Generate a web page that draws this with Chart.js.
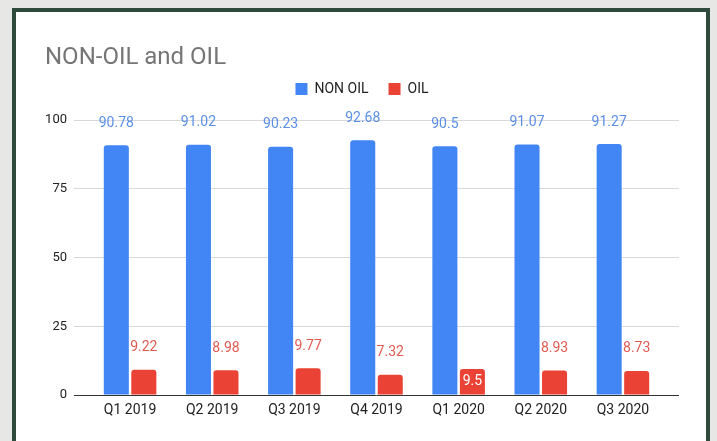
<!DOCTYPE html>
<html><head><meta charset="utf-8">
<script src="https://cdn.jsdelivr.net/npm/chart.js@4"></script>
<style>
html,body{margin:0;padding:0;background:#e7e8e6;width:717px;height:441px;overflow:hidden}
#frame{position:absolute;left:12px;top:8px;width:690px;height:440px;border:4px solid #2f4a3a;border-bottom:none;background:#fff}
#c{display:block}
</style></head><body>
<div id="frame"><canvas id="c" width="690" height="429"></canvas></div>
<script>
const categories = ['Q1 2019','Q2 2019','Q3 2019','Q4 2019','Q1 2020','Q2 2020','Q3 2020'];
const nonOil = [90.78, 91.02, 90.23, 92.68, 90.5, 91.07, 91.27];
const oil = [9.22, 8.98, 9.77, 7.32, 9.5, 8.93, 8.73];
const yTicks = [0, 25, 50, 75, 100];
const seriesNames = ['NON OIL', 'OIL'];
const titleText = 'NON-OIL and OIL';

Chart.defaults.font.family = 'Roboto, "Noto Sans", sans-serif';

const gridColor = ctx => (ctx.tick && ctx.tick.value === 0) ? '#333333' : '#d9d9d9';

const valueLabels = {
  id: 'valueLabels',
  afterDatasetsDraw(chart) {
    const ctx = chart.ctx;
    chart.data.datasets.forEach((ds, di) => {
      const meta = chart.getDatasetMeta(di);
      meta.data.forEach((el, i) => {
        const v = ds.data[i];
        const inside = (di === 1 && i === 4);
        ctx.save();
        ctx.font = '14px Roboto, "Noto Sans", sans-serif';
        ctx.textAlign = 'center';
        ctx.textBaseline = 'middle';
        ctx.fillStyle = inside ? '#ffffff' : ds.labelColor;
        ctx.fillText(String(v), el.x, inside ? el.y + 13 : el.y - 22);
        ctx.restore();
      });
    });
  }
};

new Chart(document.getElementById('c'), {
  type: 'bar',
  data: {
    labels: categories,
    datasets: [
      { label: seriesNames[0], data: nonOil, backgroundColor: '#4285f4', labelColor: '#5a8fe8',
        categoryPercentage: 0.67, barPercentage: 0.91, borderRadius: {topLeft: 3, topRight: 3}, borderSkipped: 'start' },
      { label: seriesNames[1], data: oil, backgroundColor: '#ea4335', labelColor: '#e05a52',
        categoryPercentage: 0.67, barPercentage: 0.91, borderRadius: {topLeft: 3, topRight: 3}, borderSkipped: 'start' }
    ]
  },
  options: {
    responsive: false,
    devicePixelRatio: 1,
    animation: false,
    layout: { padding: { left: 29, right: 27, top: 0, bottom: 0 } },
    plugins: {
      title: { display: true, text: titleText, align: 'start', color: '#757575',
        font: { size: 24, weight: 'normal', lineHeight: 1 }, padding: { top: 34, bottom: -8 } },
      legend: { display: true, position: 'top', align: 'center',
        labels: { boxWidth: 12, boxHeight: 12, padding: 20, color: '#222', font: { size: 14 } } },
      tooltip: { enabled: false }
    },
    scales: {
      x: { offset: true, grid: { display: false, drawTicks: false }, border: { display: false },
        ticks: { color: '#222', font: { size: 14 }, padding: 7, maxRotation: 0 },
        afterFit: s => { s.height = 46; } },
      xTop: { type: 'category', position: 'top', grid: { display: false, drawTicks: false }, border: { display: false },
        ticks: { display: false }, afterFit: s => { s.height = 14; } },
      y: { min: yTicks[0], max: yTicks[yTicks.length - 1],
        afterBuildTicks: s => { s.ticks = yTicks.map(v => ({ value: v })); },
        ticks: { color: '#222', font: { size: 13 }, padding: 7 },
        grid: { color: gridColor, tickColor: gridColor, tickLength: 15 }, border: { display: false },
        afterFit: s => { s.width = 44; } },
      y2: { position: 'right', min: yTicks[0], max: yTicks[yTicks.length - 1],
        afterBuildTicks: s => { s.ticks = yTicks.map(v => ({ value: v })); },
        ticks: { display: false },
        grid: { drawOnChartArea: false, color: gridColor, tickColor: gridColor, tickLength: 15 }, border: { display: false },
        afterFit: s => { s.width = 15; } }
    }
  },
  plugins: [valueLabels]
});
</script>
</body></html>
